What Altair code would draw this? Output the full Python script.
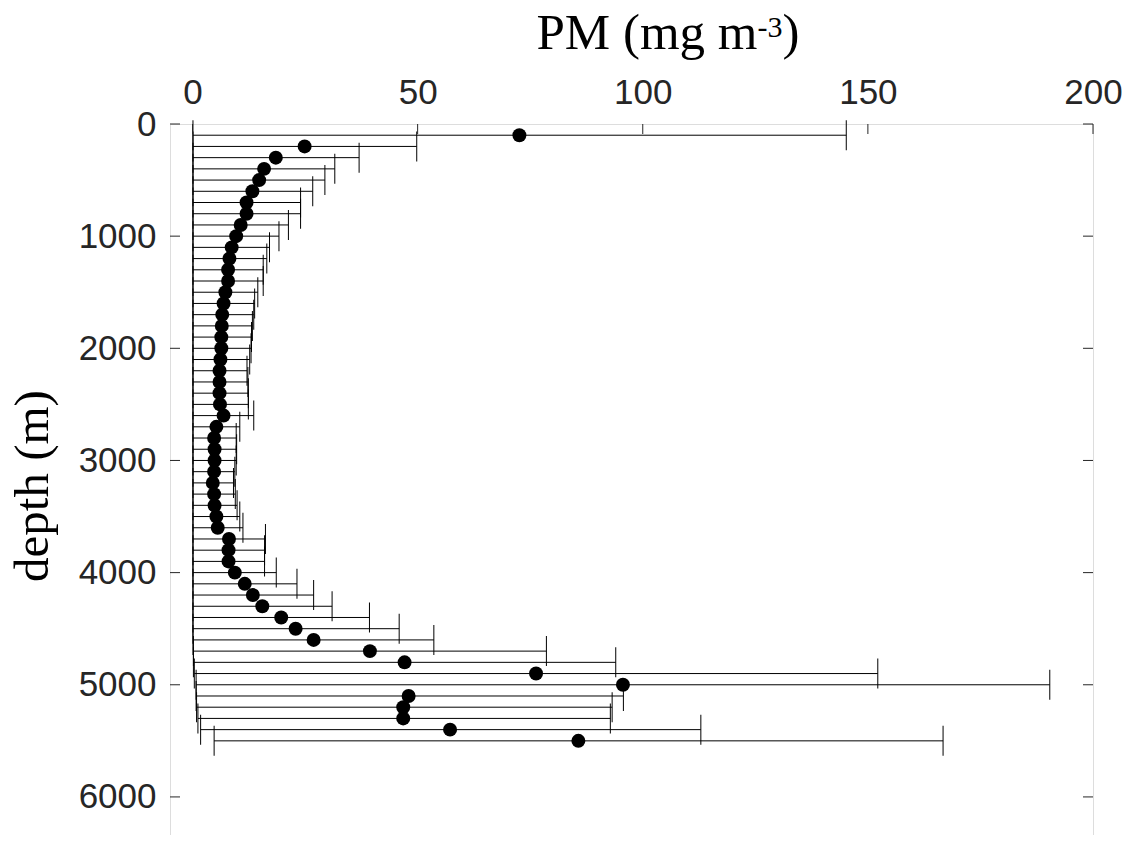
import altair as alt
import pandas as pd

# depth levels (m)
depth = [100, 200, 300, 400, 500, 600, 700, 800, 900, 1000,
         1100, 1200, 1300, 1400, 1500, 1600, 1700, 1800, 1900, 2000,
         2100, 2200, 2300, 2400, 2500, 2600, 2700, 2800, 2900, 3000,
         3100, 3200, 3300, 3400, 3500, 3600, 3700, 3800, 3900, 4000,
         4100, 4200, 4300, 4400, 4500, 4600, 4700, 4800, 4900, 5000,
         5100, 5200, 5300, 5400, 5500]

# PM mean (mg m-3)
pm_mean = [72.6, 24.9, 18.5, 15.9, 14.8, 13.3, 12.0, 12.0, 10.7, 9.7,
           8.7, 8.2, 7.9, 7.9, 7.3, 6.9, 6.6, 6.5, 6.4, 6.4,
           6.2, 6.0, 6.0, 6.0, 6.1, 6.9, 5.3, 4.8, 4.9, 4.9,
           4.8, 4.5, 4.8, 4.9, 5.3, 5.6, 8.1, 8.0, 8.0, 9.4,
           11.6, 13.4, 15.5, 19.7, 22.9, 26.9, 39.4, 47.1, 76.3, 95.6,
           48.0, 46.8, 46.8, 57.2, 85.7]

# error bar lower / upper ends
pm_lo = [0.1, 0.1, 0.1, 0.1, 0.1, 0.1, 0.1, 0.1, 0.1, 0.1,
         0.1, 0.1, 0.1, 0.1, 0.1, 0.1, 0.1, 0.1, 0.1, 0.1,
         0.1, 0.1, 0.1, 0.1, 0.1, 0.1, 0.1, 0.1, 0.1, 0.1,
         0.1, 0.1, 0.1, 0.1, 0.1, 0.1, 0.1, 0.1, 0.1, 0.1,
         0.1, 0.1, 0.1, 0.1, 0.1, 0.1, 0.2, 0.2, 0.4, 0.8,
         0.8, 0.9, 1.2, 1.8, 4.8]
pm_hi = [145.2, 49.8, 37.0, 31.6, 29.4, 26.7, 24.0, 24.0, 21.3, 19.2,
         17.1, 16.5, 15.7, 15.7, 14.5, 13.8, 13.6, 13.3, 13.1, 13.0,
         12.7, 12.1, 12.3, 12.4, 12.4, 13.6, 10.5, 9.7, 9.8, 9.7,
         9.4, 9.1, 9.5, 9.9, 10.5, 11.2, 16.2, 16.0, 16.0, 18.6,
         23.2, 26.9, 31.0, 39.3, 45.9, 53.6, 78.6, 94.0, 152.2, 190.4,
         95.7, 93.2, 92.8, 112.9, 166.7]

x_ticks = [0, 50, 100, 150, 200]
y_ticks = [0, 1000, 2000, 3000, 4000, 5000, 6000]

W, H = 923, 729
AX = "#262626"
LABEL_FONT = "Liberation Sans"
TITLE_FONT = "Liberation Serif"

df = pd.DataFrame({"depth": depth, "pm": pm_mean, "lo": pm_lo, "hi": pm_hi})
xt = pd.DataFrame({"v": x_ticks})
yt = pd.DataFrame({"v": y_ticks})

xscale = alt.Scale(domain=[-5, 200], nice=False, zero=False)
yscale = alt.Scale(domain=[0, 6500], nice=False, zero=False, reverse=True)

x_axis = alt.Axis(orient="top", values=x_ticks, title=None, ticks=False, tickSize=0,
                  domain=False, grid=False, labelFont=LABEL_FONT, labelFontSize=35,
                  labelColor=AX, labelBaseline="alphabetic", labelPadding=21,
                  labelFlush=False, labelOverlap=False, format="d")
y_axis = alt.Axis(values=y_ticks, title="depth (m)", ticks=False, tickSize=0,
                  domain=False, grid=False, labelFont=LABEL_FONT, labelFontSize=35,
                  labelColor=AX, labelPadding=14, labelFlush=False, labelOverlap=False,
                  format="d",
                  titleFont=TITLE_FONT, titleFontSize=49, titleFontWeight="normal",
                  titleColor="black", titleAngle=270, titleX=-123, titleY=H / 2 - 3,
                  titleAlign="center", titleBaseline="alphabetic")

base = alt.Chart(df)

bars = base.mark_rule(color="black", strokeWidth=1).encode(
    x=alt.X("lo:Q", scale=xscale, axis=x_axis),
    x2="hi:Q",
    y=alt.Y("depth:Q", scale=yscale, axis=y_axis),
)
cap_lo = base.mark_tick(orient="vertical", size=30, thickness=1, color="black", opacity=1).encode(
    x=alt.X("lo:Q", scale=xscale), y=alt.Y("depth:Q", scale=yscale))
cap_hi = base.mark_tick(orient="vertical", size=30, thickness=1, color="black", opacity=1).encode(
    x=alt.X("hi:Q", scale=xscale), y=alt.Y("depth:Q", scale=yscale))
pts = base.mark_circle(size=195, color="black", opacity=1).encode(
    x=alt.X("pm:Q", scale=xscale), y=alt.Y("depth:Q", scale=yscale))

# inward ticks on all four sides
tick_style = dict(color=AX, strokeWidth=1)
t_top = alt.Chart(xt).mark_rule(**tick_style).encode(
    x=alt.X("v:Q", scale=xscale), y=alt.value(0), y2=alt.value(10))
t_bot = alt.Chart(xt).mark_rule(**tick_style).encode(
    x=alt.X("v:Q", scale=xscale), y=alt.value(H), y2=alt.value(H - 10))
t_left = alt.Chart(yt).mark_rule(**tick_style).encode(
    y=alt.Y("v:Q", scale=yscale), x=alt.value(0), x2=alt.value(10))
t_right = alt.Chart(yt).mark_rule(**tick_style).encode(
    y=alt.Y("v:Q", scale=yscale), x=alt.value(W), x2=alt.value(W - 10))

# x-axis title with superscript
t1 = alt.Chart(pd.DataFrame({"t": ["PM (mg m"]})).mark_text(
    font=TITLE_FONT, fontSize=51, color="black", align="left", baseline="alphabetic"
).encode(text="t:N", x=alt.value(366.5), y=alt.value(-75.5))
t2 = alt.Chart(pd.DataFrame({"t": ["-3"]})).mark_text(
    font=TITLE_FONT, fontSize=30, color="black", align="left", baseline="alphabetic"
).encode(text="t:N", x=alt.value(587.5), y=alt.value(-87))
t3 = alt.Chart(pd.DataFrame({"t": [")"]})).mark_text(
    font=TITLE_FONT, fontSize=51, color="black", align="left", baseline="alphabetic"
).encode(text="t:N", x=alt.value(612.5), y=alt.value(-75.5))

chart = alt.layer(bars, cap_lo, cap_hi, pts, t_top, t_bot, t_left, t_right, t1, t2, t3).properties(
    width=W, height=H,
    autosize="none",
    padding={"left": 162, "top": 116, "right": 29, "bottom": -18},
).configure_view(stroke=AX, strokeWidth=1).configure(background="white")

chart.save("out.html", embed_options={"renderer": "svg", "actions": False})
